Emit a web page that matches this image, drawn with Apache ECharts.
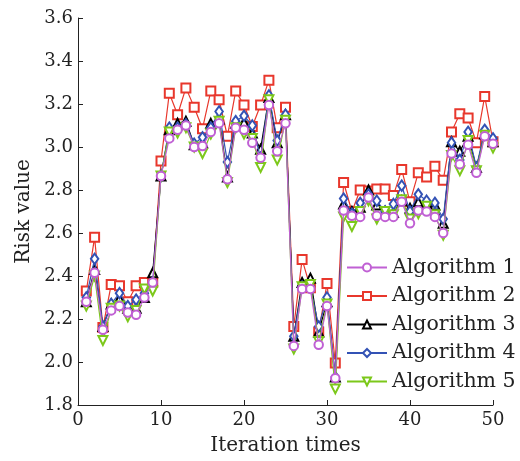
<!DOCTYPE html>
<html>
<head>
<meta charset="utf-8">
<script src="https://cdn.jsdelivr.net/npm/echarts@6/dist/echarts.min.js"></script>
<style>html,body{margin:0;padding:0;background:#fff}#c{width:520px;height:461px}</style>
</head>
<body>
<div id="c"></div>
<script>
var iterations = [1,2,3,4,5,6,7,8,9,10,11,12,13,14,15,16,17,18,19,20,21,22,23,24,25,26,27,28,29,30,31,32,33,34,35,36,37,38,39,40,41,42,43,44,45,46,47,48,49,50];
var seriesNames = ['Algorithm 1','Algorithm 2','Algorithm 3','Algorithm 4','Algorithm 5'];
var alg1 = [2.28,2.415,2.15,2.24,2.26,2.23,2.22,2.30,2.37,2.865,3.04,3.08,3.10,3.00,3.005,3.07,3.11,2.85,3.09,3.08,3.02,2.95,3.195,2.98,3.11,2.075,2.34,2.34,2.08,2.26,1.925,2.705,2.68,2.675,2.765,2.68,2.675,2.675,2.745,2.645,2.705,2.70,2.675,2.60,2.97,2.92,3.01,2.88,3.05,3.015];
var alg2 = [2.33,2.58,2.16,2.36,2.355,2.28,2.355,2.37,2.37,2.935,3.25,3.15,3.275,3.185,3.085,3.26,3.22,3.05,3.26,3.195,3.095,3.195,3.31,3.09,3.185,2.165,2.477,2.345,2.14,2.365,1.995,2.835,2.70,2.80,2.795,2.805,2.805,2.775,2.895,2.745,2.88,2.86,2.91,2.845,3.07,3.155,3.135,3.02,3.235,3.025];
var alg3 = [2.28,2.43,2.165,2.27,2.295,2.25,2.25,2.30,2.415,2.865,3.08,3.11,3.12,3.01,3.02,3.11,3.13,2.86,3.11,3.115,3.065,2.99,3.23,3.02,3.15,2.12,2.37,2.39,2.14,2.28,1.93,2.735,2.70,2.72,2.80,2.73,2.70,2.695,2.75,2.715,2.745,2.735,2.73,2.645,3.025,2.98,3.05,2.905,3.06,3.025];
var alg4 = [2.30,2.48,2.165,2.27,2.32,2.26,2.29,2.32,2.37,2.865,3.09,3.09,3.105,3.015,3.045,3.09,3.165,2.93,3.12,3.145,3.10,2.95,3.24,3.03,3.15,2.12,2.35,2.35,2.165,2.30,1.93,2.76,2.69,2.74,2.78,2.75,2.70,2.735,2.82,2.70,2.78,2.75,2.74,2.665,3.02,2.94,3.07,2.905,3.08,3.04];
var alg5 = [2.26,2.40,2.10,2.25,2.26,2.21,2.24,2.34,2.33,2.865,3.07,3.065,3.09,3.00,2.97,3.06,3.12,2.835,3.09,3.06,3.04,2.905,3.22,2.94,3.125,2.06,2.35,2.36,2.095,2.27,1.875,2.675,2.63,2.70,2.75,2.665,2.70,2.685,2.755,2.665,2.69,2.725,2.685,2.59,2.96,2.89,3.03,2.89,3.055,2.995];
var allValues = [alg1, alg2, alg3, alg4, alg5];

var colors = ['#c060d4','#e8372c','#000000','#3352b5','#7cc81a'];
var symbols = ['emptyCircle','emptyRect','emptyTriangle','emptyDiamond','emptyTriangle'];
var symbolSizes = [8.5,9,9,[7.5,10.5],9];
var rotates = [0,0,0,0,180];
var zs = [7,3,4,5,6];
var FONT = 'DejaVu Serif';

function pairs(vals){ return iterations.map(function(x,i){ return [x, vals[i]]; }); }

var series = seriesNames.map(function(name, k){
  return {
    name: name,
    type: 'line',
    data: pairs(allValues[k]),
    symbol: symbols[k],
    symbolSize: symbolSizes[k],
    symbolRotate: rotates[k],
    showAllSymbol: true,
    z: zs[k],
    lineStyle: {color: colors[k], width: 1.2},
    itemStyle: {color: colors[k], borderColor: colors[k], borderWidth: 1.1},
    emphasis: {disabled: true},
    animation: false
  };
});

var chart = echarts.init(document.getElementById('c'), null, {renderer: 'canvas'});
chart.setOption({
  backgroundColor: '#fff',
  animation: false,
  grid: {left: 78, right: 27, top: 18, bottom: 50, containLabel: false},
  xAxis: {
    type: 'value', min: 0, max: 50, interval: 10,
    name: 'Iteration times', nameLocation: 'middle', nameGap: 31,
    nameTextStyle: {fontFamily: FONT, fontSize: 20, color: '#222'},
    axisLine: {show: true, lineStyle: {color: '#222', width: 1}},
    axisTick: {show: true, inside: true, length: 5, lineStyle: {color: '#222'}},
    axisLabel: {fontFamily: FONT, fontSize: 18, color: '#222', margin: 6},
    splitLine: {show: false}
  },
  yAxis: {
    type: 'value', min: 1.8, max: 3.6, interval: 0.2,
    name: 'Risk value', nameLocation: 'middle', nameGap: 40, nameRotate: 90,
    nameTextStyle: {fontFamily: FONT, fontSize: 20, color: '#222'},
    axisLine: {show: true, lineStyle: {color: '#222', width: 1}},
    axisTick: {show: true, inside: true, length: 5, lineStyle: {color: '#222'}},
    axisLabel: {fontFamily: FONT, fontSize: 18, color: '#222', margin: 5,
      formatter: function(v){ return v.toFixed(1); }},
    splitLine: {show: false}
  },
  legend: {
    data: seriesNames,
    orient: 'vertical',
    left: 344, top: 255,
    itemWidth: 40, itemHeight: 10, itemGap: 7.5,
    textStyle: {fontFamily: FONT, fontSize: 20.5, color: '#222', lineHeight: 20},
    backgroundColor: 'rgba(255,255,255,0.9)',
    padding: [2, 2, 2, 2],
    selectedMode: false
  },
  series: series
});
</script>
</body>
</html>
